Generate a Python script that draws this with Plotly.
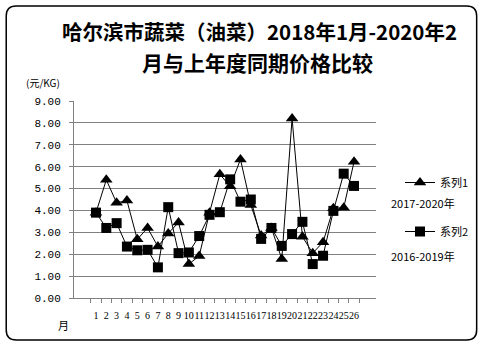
import plotly.graph_objects as go

months = [str(i) for i in range(1, 27)]
series1 = [3.9, 5.4, 4.35, 4.45, 2.68, 3.2, 2.35, 2.95, 3.45, 1.55, 1.92, 3.9, 5.65,
           5.1, 6.33, 4.25, 2.85, 3.2, 1.78, 8.2, 2.8, 2.05, 2.55, 4.1, 4.12, 6.22]
series2 = [3.9, 3.2, 3.42, 2.35, 2.18, 2.2, 1.4, 4.15, 2.05, 2.08, 2.83, 3.8, 3.92,
           5.42, 4.4, 4.5, 2.7, 3.2, 2.38, 2.92, 3.48, 1.55, 1.93, 3.98, 5.68, 5.12]
yticks = [0, 1, 2, 3, 4, 5, 6, 7, 8, 9]
ytick_labels = ["%.2f" % v for v in yticks]

W, H = 485, 347
L, R, T, B = 74, 108, 101, 49
pw, ph = W - L - R, H - T - B

def px2paper(x, y):
    return (x - L) / pw, (H - B - y) / ph

fig = go.Figure()
fig.add_trace(go.Scatter(
    x=months, y=series1, mode="lines+markers", name="系列1", legendgroup="a",
    line=dict(color="black", width=1),
    marker=dict(symbol="triangle-up", size=11, color="black"),
))
fig.add_trace(go.Scatter(
    x=months, y=series2, mode="lines+markers", name="系列2", legendgroup="b",
    line=dict(color="black", width=1),
    marker=dict(symbol="square", size=10, color="black"),
))

# rounded border
x0, y0 = px2paper(6, 6)
x1, y1 = px2paper(478, 340)
rx, ry = 10 / pw, 10 / ph
path = (f"M {x0+rx},{y0} L {x1-rx},{y0} Q {x1},{y0} {x1},{y0-ry} "
        f"L {x1},{y1+ry} Q {x1},{y1} {x1-rx},{y1} L {x0+rx},{y1} "
        f"Q {x0},{y1} {x0},{y1+ry} L {x0},{y0-ry} Q {x0},{y0} {x0+rx},{y0} Z")

def ann(text, px, py, size, family="Noto Sans CJK SC"):
    xp, yp = px2paper(px, py)
    return dict(text=text, x=xp, y=yp, xref="paper", yref="paper", showarrow=False,
                xanchor="center", yanchor="middle",
                font=dict(size=size, family=family, color="black"))

lx, ly = px2paper(400, 168)

fig.update_layout(
    width=W, height=H,
    margin=dict(l=L, r=R, t=T, b=B),
    paper_bgcolor="white", plot_bgcolor="white",
    font=dict(family="Noto Sans CJK SC", color="black"),
    shapes=[dict(type="path", path=path, xref="paper", yref="paper",
                 line=dict(color="black", width=1.5), layer="below")],
    annotations=[
        ann("<b>哈尔滨市蔬菜（油菜）2018年1月-2020年2</b>", 260, 31, 20.5),
        ann("<b>月与上年度同期价格比较</b>", 258, 62, 21),
        ann("(元/KG)", 43, 83, 10),
        ann("月", 63, 325, 11),
        ann("2017-2020年", 424, 203, 11),
        ann("2016-2019年", 424, 256, 11),
    ],
    showlegend=True,
    legend=dict(x=lx, y=ly, xanchor="left", yanchor="top", bgcolor="rgba(0,0,0,0)",
                tracegroupgap=30, font=dict(size=11, family="Noto Sans CJK SC"),
                itemwidth=30),
    xaxis=dict(type="category", tickson="boundaries", ticks="outside", ticklen=4,
               tickmode="array", tickvals=months, ticktext=months,
               tickcolor="#808080", showline=True, linecolor="#808080", linewidth=1,
               showgrid=False, tickangle=0, ticklabelstandoff=8,
               tickfont=dict(size=10, family="Liberation Serif"), fixedrange=True),
    yaxis=dict(range=[0, 9], tickvals=yticks, ticktext=ytick_labels, ticks="outside",
               ticklen=4, tickcolor="#808080", showline=True, linecolor="#808080",
               gridcolor="#808080", gridwidth=1, zeroline=False,
               tickfont=dict(size=11, family="Liberation Mono"), ticklabelstandoff=6),
)

fig.write_html("out.html")
